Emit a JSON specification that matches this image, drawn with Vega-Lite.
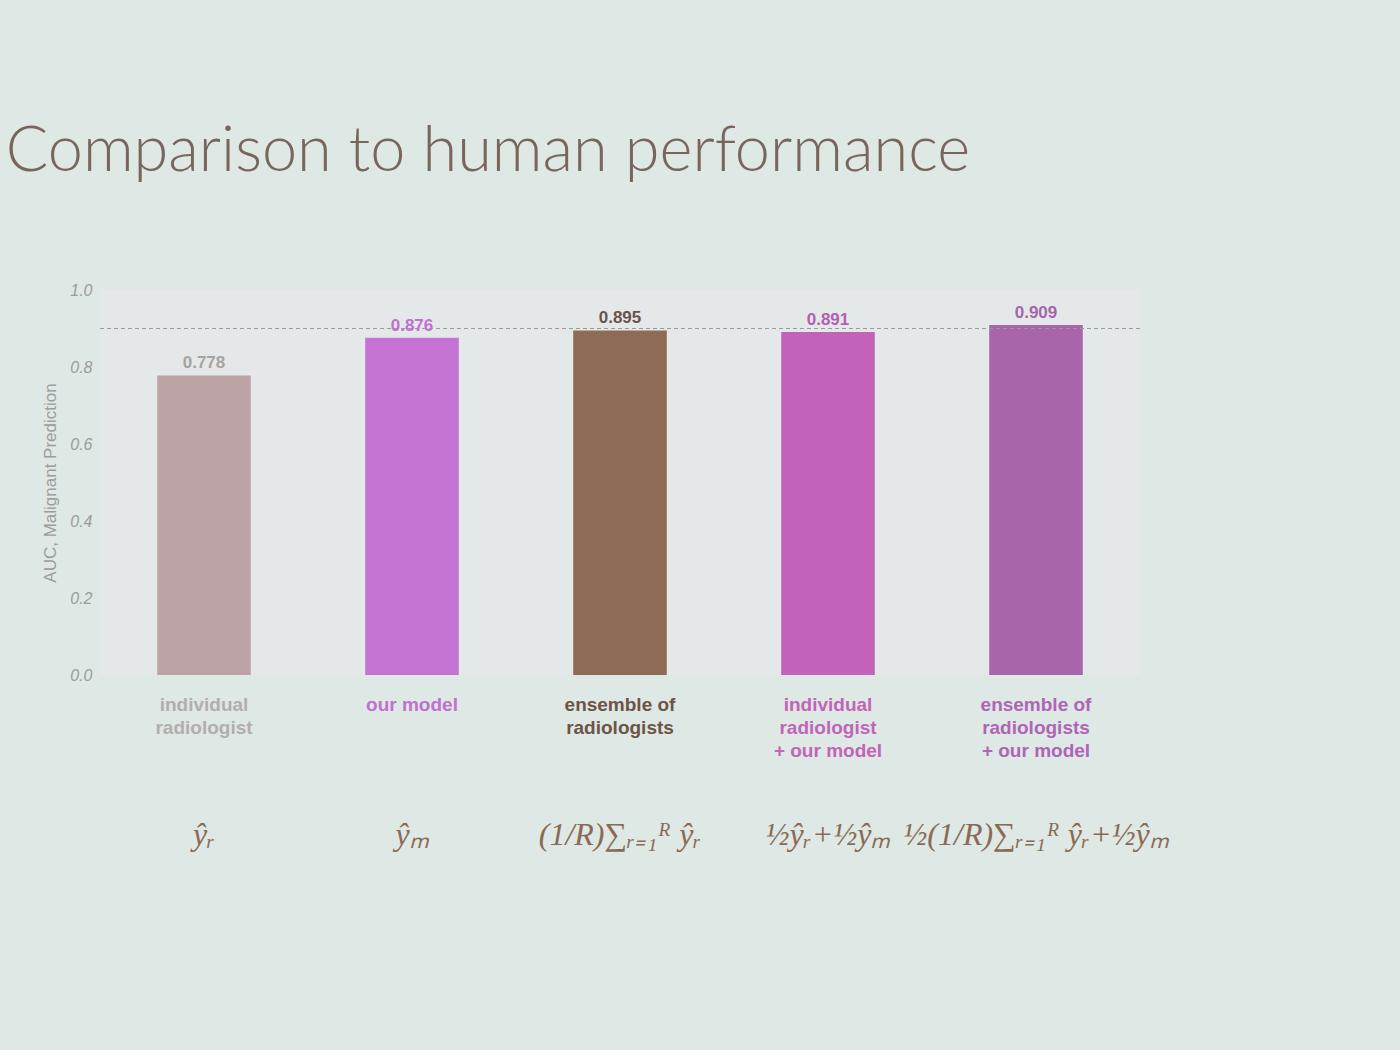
{
  "$schema": "https://vega.github.io/schema/vega-lite/v6.json",
  "autosize": {"type": "none"},
  "width": 1040,
  "height": 385,
  "padding": {"left": 100, "top": 290, "right": 260, "bottom": 375},
  "background": "#dee8e4",
  "title": {
    "text": "Comparison to human performance",
    "anchor": "start",
    "dx": -36,
    "offset": 98,
    "font": "Lato",
    "fontSize": 63,
    "fontWeight": 300,
    "color": "#7a655c"
  },
  "config": {
    "view": {"fill": "#e4e8e8", "stroke": null}
  },
  "data": {
    "values": [
      {"category": "individual radiologist", "auc": 0.778, "formula": "ŷᵣ"},
      {"category": "our model", "auc": 0.876, "formula": "ŷₘ"},
      {"category": "ensemble of radiologists", "auc": 0.895, "formula": "(1/R)∑ᵣ₌₁ᴿ ŷᵣ"},
      {"category": "individual radiologist + our model", "auc": 0.891, "formula": "½ŷᵣ+½ŷₘ"},
      {"category": "ensemble of radiologists + our model", "auc": 0.909, "formula": "½(1/R)∑ᵣ₌₁ᴿ ŷᵣ+½ŷₘ"}
    ]
  },
  "encoding": {
    "x": {
      "field": "category",
      "type": "nominal",
      "sort": null,
      "scale": {"paddingInner": 0.55, "paddingOuter": 0.275},
      "axis": {
        "title": null,
        "domain": false,
        "ticks": false,
        "labelAngle": 0,
        "labelPadding": 20,
        "labelFont": "Liberation Sans",
        "labelFontSize": 19,
        "labelFontWeight": "bold",
        "labelLineHeight": 23,
        "labelExpr": "datum.value == 'individual radiologist' ? ['individual', 'radiologist'] : datum.value == 'our model' ? ['our model'] : datum.value == 'ensemble of radiologists' ? ['ensemble of', 'radiologists'] : datum.value == 'individual radiologist + our model' ? ['individual', 'radiologist', '+ our model'] : ['ensemble of', 'radiologists', '+ our model']",
        "labelColor": {"expr": "datum.value == 'individual radiologist' ? '#b2aeae' : datum.value == 'our model' ? '#c070d0' : datum.value == 'ensemble of radiologists' ? '#6e5446' : datum.value == 'individual radiologist + our model' ? '#c264b8' : '#b064b8'"}
      }
    }
  },
  "layer": [
    {
      "mark": {"type": "bar"},
      "encoding": {
        "y": {
          "field": "auc",
          "type": "quantitative",
          "scale": {"domain": [0, 1]},
          "axis": {
            "values": [0, 0.2, 0.4, 0.6, 0.8, 1.0],
            "format": ".1f",
            "grid": false,
            "domain": false,
            "ticks": false,
            "labelPadding": 8,
            "labelFont": "Liberation Sans",
            "labelFontSize": 16,
            "labelFontStyle": "italic",
            "labelColor": "#9c9c9c",
            "title": "AUC, Malignant Prediction",
            "titleFont": "Liberation Sans",
            "titleFontSize": 17,
            "titleFontWeight": "normal",
            "titleColor": "#9c9c9c",
            "titlePadding": 10
          }
        },
        "color": {
          "field": "category",
          "type": "nominal",
          "legend": null,
          "scale": {
            "domain": ["individual radiologist", "our model", "ensemble of radiologists", "individual radiologist + our model", "ensemble of radiologists + our model"],
            "range": ["#bba3a5", "#c473d3", "#8e6b55", "#c262b8", "#a865ab"]
          }
        }
      }
    },
    {
      "mark": {"type": "rule", "strokeDash": [4, 3], "color": "#9a9a9a", "strokeWidth": 1},
      "encoding": {"y": {"datum": 0.9}, "x": null}
    },
    {
      "mark": {"type": "text", "baseline": "bottom", "dy": -3, "font": "Liberation Sans", "fontSize": 17, "fontWeight": "bold"},
      "encoding": {
        "y": {"field": "auc", "type": "quantitative"},
        "text": {"field": "auc", "type": "quantitative", "format": ".3f"},
        "color": {
          "field": "category",
          "type": "nominal",
          "legend": null,
          "scale": {
            "domain": ["individual radiologist", "our model", "ensemble of radiologists", "individual radiologist + our model", "ensemble of radiologists + our model"],
            "range": ["#a8a2a2", "#c070d0", "#6a5448", "#b35fb0", "#a865ab"]
          }
        }
      }
    },
    {
      "mark": {"type": "text", "baseline": "middle", "dy": 160, "font": "Liberation Serif", "fontStyle": "italic", "fontSize": 32, "color": "#8b6a55"},
      "encoding": {
        "y": {"datum": 0},
        "text": {"field": "formula", "type": "nominal"}
      }
    }
  ],
  "resolve": {"scale": {"color": "independent"}}
}
